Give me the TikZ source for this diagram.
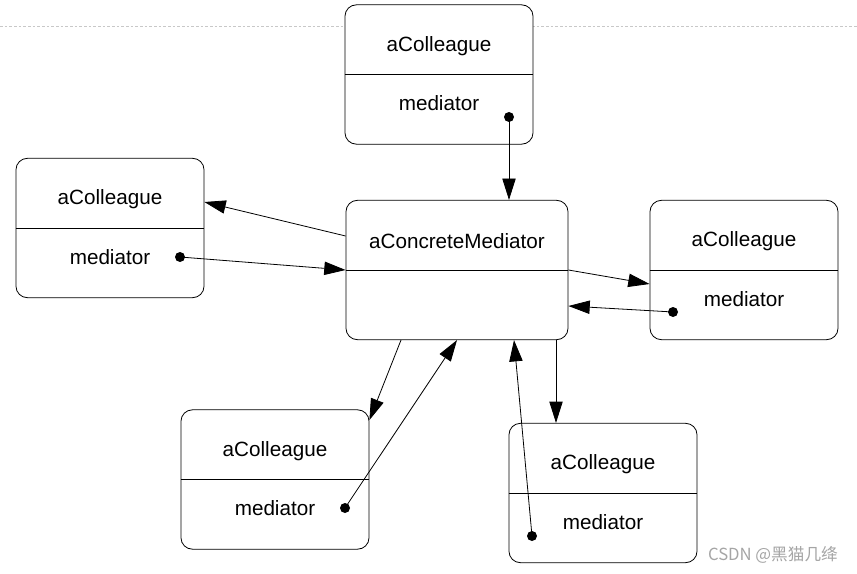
\documentclass[tikz,border=0pt]{standalone}
\usepackage{fontspec}
\setmainfont{Liberation Sans}
\newfontfamily\cjk{Noto Sans CJK SC}
\usepackage{xcolor}
\usetikzlibrary{arrows.meta, positioning}
\definecolor{darkgray}{RGB}{76, 76, 76}
\definecolor{lightrule}{RGB}{200, 200, 200}
\definecolor{markgray}{RGB}{165, 165, 165}

\begin{document}
\begin{tikzpicture}[
    x=0.75pt, y=-0.75pt,
    >={Triangle[length=16pt,width=10pt]},
    object/.style={draw, line width=0.6pt, rounded corners=8.5pt, minimum width=141pt, minimum height=104.5pt},
    center object/.style={object, minimum width=166.5pt},
    objtitle/.style={font=\fontsize{15.5}{18}\selectfont, yshift=21.5pt},
    objfield/.style={font=\fontsize{15.5}{18}\selectfont, yshift=-21.5pt},
    pin/.style={circle, fill, inner sep=0pt, minimum size=7.5pt},
    link/.style={->, line width=0.6pt}
]
\useasboundingbox (0,0) rectangle (857,574);
\draw[lightrule, line width=0.6pt, dash pattern=on 2pt off 1.5pt] (0,26) -- (857,26);

% the mediator
\node [center object, fill=white] (cbox) at (457,270) {};
\draw [line width=0.6pt] (cbox.west) -- (cbox.east);
\node [objtitle] (ctitle) at (cbox.center) {aConcreteMediator};

% the colleagues
\foreach \id/\pos in {t/{(439,74.5)}, l/{(110,228)}, r/{(744,270)}, bl/{(275,479.5)}, br/{(603,493)}} {
    \node [object, fill=white] (\id box) at \pos {};
    \draw [line width=0.6pt] (\id box.west) -- (\id box.east);
    \node [objtitle] (\id title) at (\id box.center) {aColleague};
    \node [objfield] (\id field) at (\id box.center) {mediator};
}

\node [pin] (tdot) at (509,117) {};
\node [pin] (ldot) at (180,257) {};
\node [pin] (rdot) at (673,312) {};
\node [pin] (bldot) at (345,508) {};
\node [pin] (brdot) at (532,536) {};
\coordinate (cout) at (556,340);

\draw [link] (tdot.center) -- (tdot |- cbox.north);
\draw [link] ([yshift=25.5pt]cbox.west) -- ([yshift=19.5pt]lbox.east);
\draw [link] (ldot.center) -- (cbox.west);
\draw [link] (cbox.east) -- ([yshift=-10.5pt]rbox.west);
\draw [link] (rdot.center) -- ([yshift=-27pt]cbox.east);
\draw [link] ([xshift=-42pt]cbox.south) -- ([yshift=-8pt]blbox.north east);
\draw [link] (bldot.center) -- (cbox.south);
\draw [link] (cout) -- (cout |- brbox.north);
\draw [link] (brdot.center) -- ([xshift=42.75pt]cbox.south);

\node [text=markgray, font=\cjk\fontsize{12.5}{14}\selectfont] (mark) at (773,555) {CSDN @黑猫几绛};
\end{tikzpicture}
\end{document}
